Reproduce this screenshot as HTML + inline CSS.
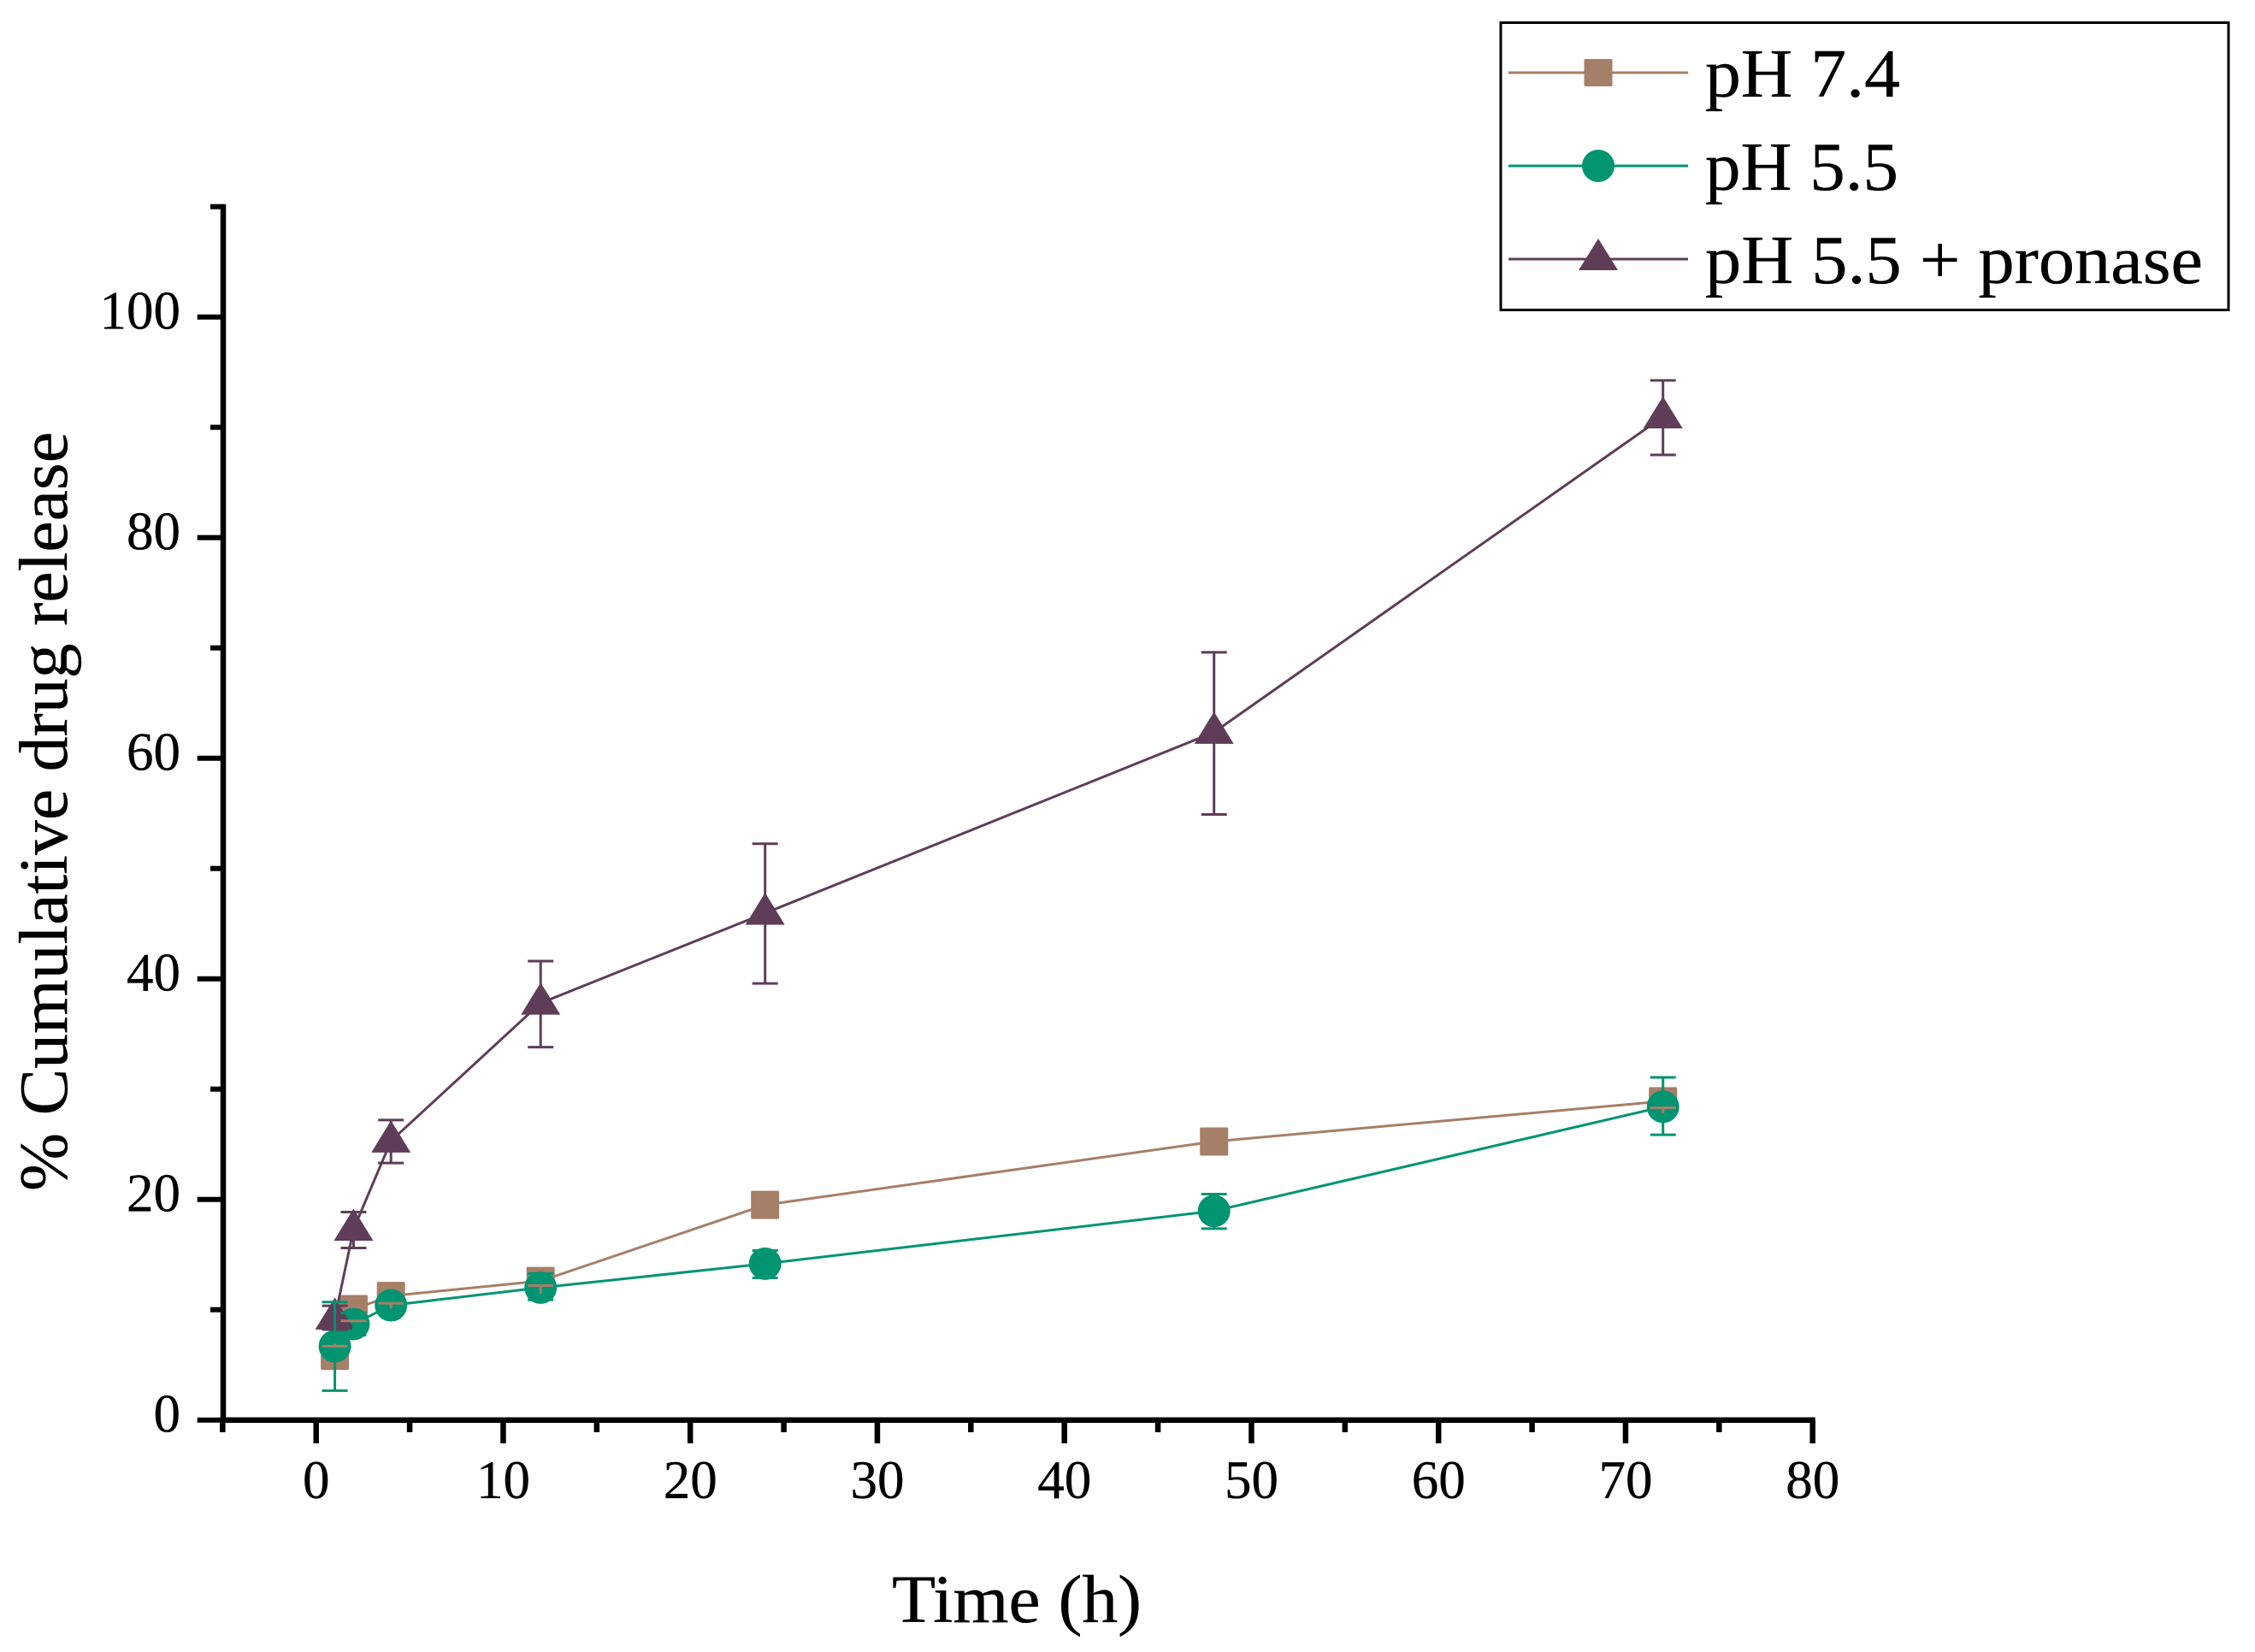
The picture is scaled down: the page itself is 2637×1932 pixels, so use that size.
<!DOCTYPE html>
<html lang="en">
<head>
<meta charset="utf-8">
<title>Cumulative drug release</title>
<style>
html,body{margin:0;padding:0;background:#fff;}
svg{display:block;}
text{font-family:"Liberation Serif",serif;fill:#000;stroke:#000;stroke-width:0.35px;}
</style>
</head>
<body>
<svg id="chart" xmlns="http://www.w3.org/2000/svg" width="2637" height="1932" viewBox="0 0 2637 1932">
  <rect x="0" y="0" width="2637" height="1932" fill="#fff"/>
  <g id="axes"></g>
  <g id="series"></g>
  <text x="1043" y="1897" font-size="79" textLength="292" lengthAdjust="spacingAndGlyphs">Time (h)</text>
  <text transform="translate(78 1393) rotate(-90)" x="0" y="0" font-size="81" textLength="888" lengthAdjust="spacingAndGlyphs">% Cumulative drug release</text>
  <g>
    <rect x="1755" y="26.5" width="851" height="336" fill="#fff" stroke="#000" stroke-width="3"/>
    <g>
      <line x1="1764" y1="85" x2="1974" y2="85" stroke="#a67f68" stroke-width="3"/>
      <rect x="1852.5" y="69" width="33" height="32" rx="1.5" fill="#a67f68"/>
      <text x="1994" y="113" font-size="80" textLength="228" lengthAdjust="spacingAndGlyphs">pH 7.4</text>
    </g>
    <g>
      <line x1="1764" y1="194" x2="1974" y2="194" stroke="#009471" stroke-width="3"/>
      <circle cx="1869" cy="194" r="19" fill="#009471"/>
      <text x="1994" y="222" font-size="80" textLength="226" lengthAdjust="spacingAndGlyphs">pH 5.5</text>
    </g>
    <g>
      <line x1="1764" y1="303" x2="1974" y2="303" stroke="#5f3d59" stroke-width="3"/>
      <polygon points="1869,279 1892,316 1846,316" fill="#5f3d59"/>
      <text x="1994" y="331" font-size="80" textLength="582" lengthAdjust="spacingAndGlyphs">pH 5.5 + pronase</text>
    </g>
  </g>
</svg>
<script>
// ---- chart data ----
var times = [1, 2, 4, 12, 24, 48, 72];
var ph74Values = [5.82, 10.05, 11.25, 12.6, 19.5, 25.25, 28.9];
var ph55Values = [6.69, 8.7, 10.4, 12.0, 14.17, 18.95, 28.4];
var ph55Upper = [10.69, 9.7, 11.2, 13.28, 15.36, 20.48, 31.06];
var ph55Lower = [2.66, 7.7, 9.6, 10.9, 12.88, 17.35, 25.86];
var pronaseValues = [9.25, 17.3, 25.3, 37.8, 45.95, 62.35, 90.95];
var pronaseUpper = [10.35, 18.85, 27.2, 41.6, 52.24, 69.6, 94.25];
var pronaseLower = [8.2, 15.6, 23.3, 33.8, 39.58, 54.9, 87.5];
var ph74ErrTimes = [1, 2, 4, 12, 72];
var ph74ErrCap = [6.69, 8.99, 10.59, 12.19, 28.3];
var ph74ErrEnd = [6.92, 8.99, 10.1, 11.46, 27.8];
var xTicks = [-5, 0, 5, 10, 15, 20, 25, 30, 35, 40, 45, 50, 55, 60, 65, 70, 75, 80];
var xTickLabels = [0, 10, 20, 30, 40, 50, 60, 70, 80];
var yTicks = [0, 10, 20, 30, 40, 50, 60, 70, 80, 90, 100, 110];
var yTickLabels = [0, 20, 40, 60, 80, 100];

// ---- axis functions ----
function sx(v) { return 369.7 + 21.875 * v; }
function sy(v) { return 1660.7 - 12.9 * v; }

var NS = 'http://www.w3.org/2000/svg';
var axesG = document.getElementById('axes');
var seriesG = document.getElementById('series');
function mk(tag, parent, attrs) {
  var n = document.createElementNS(NS, tag);
  for (var k in attrs) n.setAttribute(k, attrs[k]);
  parent.appendChild(n);
  return n;
}
var BROWN = '#a67f68', GREEN = '#009471', PURPLE = '#5f3d59';
var el, i;

// ---- axes ----
el = mk('line', axesG, {x1: 261, y1: sy(110) - 3, x2: 261, y2: 1663.7, stroke: '#000', 'stroke-width': 6.5});


el = mk('line', axesG, {x1: 258, y1: 1660.7, x2: sx(80) + 3, y2: 1660.7, stroke: '#000', 'stroke-width': 6.5});



xTicks.forEach(function (t) {
  var major = xTickLabels.indexOf(t) >= 0;
  var e = mk('line', axesG, {x1: sx(t), y1: 1660.7, x2: sx(t), y2: major ? 1688 : 1675, stroke: '#000', 'stroke-width': 6.5});
  
  
});
yTicks.forEach(function (t) {
  var major = yTickLabels.indexOf(t) >= 0;
  var e = mk('line', axesG, {x1: major ? 230.7 : 246, y1: sy(t), x2: 261, y2: sy(t), stroke: '#000', 'stroke-width': 6});
  
  
});
xTickLabels.forEach(function (t) {
  var e = mk('text', axesG, {x: sx(t), y: 1752, 'font-size': 63, 'text-anchor': 'middle'});
  e.textContent = String(t);
  
  
});
yTickLabels.forEach(function (t) {
  var e = mk('text', axesG, {x: 211, y: sy(t) + 14, 'font-size': 63, 'text-anchor': 'end'});
  e.textContent = String(t);
  
  
});

// ---- helpers for marks ----
function linePoints(values) {
  return values.map(function (v, j) { return sx(times[j]) + ',' + sy(v); }).join(' ');
}
function errorBar(parent, t, hi, lo, color) {
  var g = mk('g', parent, {stroke: color, 'stroke-width': 3, fill: 'none'});
  
  
  mk('line', g, {x1: sx(t), y1: sy(hi), x2: sx(t), y2: sy(lo)});
  mk('line', g, {x1: sx(t) - 15, y1: sy(hi), x2: sx(t) + 15, y2: sy(hi)});
  mk('line', g, {x1: sx(t) - 15, y1: sy(lo), x2: sx(t) + 15, y2: sy(lo)});
}

// ---- pH 7.4 line and squares ----
el = mk('polyline', seriesG, {points: linePoints(ph74Values), fill: 'none', stroke: BROWN, 'stroke-width': 3});


for (i = 0; i < times.length; i++) {
  el = mk('rect', seriesG, {x: sx(times[i]) - 16.5, y: sy(ph74Values[i]) - 16.5, width: 33, height: 33, rx: 1.5, fill: BROWN});
  
  
}

// ---- pH 5.5 line and circles ----
el = mk('polyline', seriesG, {points: linePoints(ph55Values), fill: 'none', stroke: GREEN, 'stroke-width': 3});


for (i = 0; i < times.length; i++) {
  el = mk('circle', seriesG, {cx: sx(times[i]), cy: sy(ph55Values[i]), r: 19, fill: GREEN});
  
  
}

// ---- pronase line, error bars, triangles ----
el = mk('polyline', seriesG, {points: linePoints(pronaseValues), fill: 'none', stroke: PURPLE, 'stroke-width': 3});


for (i = 0; i < times.length; i++) {
  errorBar(seriesG, times[i], pronaseUpper[i], pronaseLower[i], PURPLE);
}
for (i = 0; i < times.length; i++) {
  var px = sx(times[i]), py = sy(pronaseValues[i]);
  el = mk('polygon', seriesG, {points: px + ',' + (py - 24) + ' ' + (px + 23) + ',' + (py + 13.5) + ' ' + (px - 23) + ',' + (py + 13.5), fill: PURPLE});
  
  
}

// ---- pH 5.5 error bars on top ----
for (i = 0; i < times.length; i++) {
  errorBar(seriesG, times[i], ph55Upper[i], ph55Lower[i], GREEN);
}

// ---- pH 7.4 error marks on top ----
for (i = 0; i < ph74ErrTimes.length; i++) {
  var ex = sx(ph74ErrTimes[i]);
  el = mk('line', seriesG, {x1: ex - 15, y1: sy(ph74ErrCap[i]), x2: ex + 15, y2: sy(ph74ErrCap[i]), stroke: BROWN, 'stroke-width': 3});
  
  
  el = mk('line', seriesG, {x1: ex, y1: sy(ph74ErrCap[i]), x2: ex, y2: sy(ph74ErrEnd[i]), stroke: BROWN, 'stroke-width': 3});
  
  
}
</script>
</body>
</html>
